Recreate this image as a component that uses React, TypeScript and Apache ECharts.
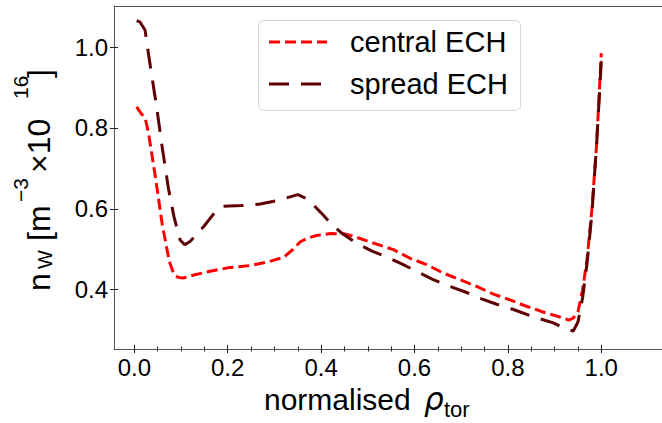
import React, { useEffect, useRef } from "react";
import * as echarts from "echarts";

// ---- data ----
const xTickValues = [0.0, 0.2, 0.4, 0.6, 0.8, 1.0];
const xMinorTickValues = [0.05, 0.1, 0.15, 0.25, 0.3, 0.35, 0.45, 0.5, 0.55, 0.65, 0.7, 0.75, 0.85, 0.9, 0.95];
const yTickValues = [0.4, 0.6, 0.8, 1.0];

const seriesNames = ["central ECH", "spread ECH"];

const centralX = [0.005, 0.015, 0.023, 0.03, 0.045, 0.06, 0.075, 0.085, 0.095, 0.105, 0.13, 0.16, 0.2, 0.25, 0.29, 0.32, 0.34, 0.355, 0.37, 0.39, 0.42, 0.45, 0.47, 0.51, 0.555, 0.59, 0.626, 0.662, 0.697, 0.733, 0.769, 0.804, 0.84, 0.88, 0.91, 0.93, 0.94, 0.95, 0.96, 0.97, 0.98, 0.99, 1.0];
const centralY = [0.852, 0.835, 0.825, 0.79, 0.68, 0.56, 0.47, 0.437, 0.43, 0.429, 0.437, 0.445, 0.454, 0.46, 0.47, 0.48, 0.5, 0.518, 0.527, 0.534, 0.539, 0.538, 0.532, 0.516, 0.499, 0.478, 0.462, 0.441, 0.425, 0.408, 0.389, 0.375, 0.359, 0.343, 0.333, 0.325, 0.33, 0.345, 0.4, 0.48, 0.6, 0.76, 0.985];

const spreadX = [0.005, 0.012, 0.023, 0.03, 0.048, 0.06, 0.073, 0.085, 0.098, 0.108, 0.12, 0.15, 0.175, 0.19, 0.23, 0.27, 0.305, 0.35, 0.37, 0.385, 0.4, 0.42, 0.444, 0.473, 0.508, 0.54, 0.576, 0.605, 0.64, 0.676, 0.712, 0.74, 0.776, 0.812, 0.847, 0.897, 0.925, 0.94, 0.95, 0.96, 0.97, 0.98, 0.99, 1.0];
const spreadY = [1.065, 1.062, 1.042, 0.985, 0.85, 0.75, 0.651, 0.58, 0.523, 0.511, 0.52, 0.558, 0.595, 0.606, 0.608, 0.612, 0.62, 0.635, 0.625, 0.608, 0.59, 0.565, 0.54, 0.517, 0.496, 0.481, 0.462, 0.445, 0.425, 0.408, 0.393, 0.379, 0.364, 0.351, 0.336, 0.318, 0.302, 0.298, 0.32, 0.38, 0.47, 0.59, 0.76, 0.965];

const X_MIN = -0.0435;
const X_MAX = 1.13;
const Y_MIN = 0.2534;
const Y_MAX = 1.1014;

const FONT = "'Liberation Sans', Arial, sans-serif";
const RED = "#ff0000";
const DARK = "#5f0000";
const AXIS_COLOR = "#555555";

export default function App() {
  const ref = useRef<HTMLDivElement>(null);

  useEffect(() => {
    if (!ref.current) return;
    const chart = echarts.init(ref.current, undefined, { renderer: "svg" });

    const centralData = centralX.map((x, i) => [x, centralY[i]]);
    const spreadData = spreadX.map((x, i) => [x, spreadY[i]]);

    const baseX = { type: "value", min: X_MIN, max: X_MAX, splitLine: { show: false } };
    const baseY = { type: "value", min: Y_MIN, max: Y_MAX, splitLine: { show: false } };

    const rot = Math.PI / 2;
    const mainSize = 32;
    const supSize = 21;
    const mainX = 50 - 0.3465 * mainSize;
    const subX = 52 - 0.3465 * 20;
    const supX = 28 - 0.3465 * supSize;

    const ylabelPieces = [
      { t: "n", y: 291, x: mainX, s: mainSize },
      { t: "W", y: 269, x: subX, s: 20 },
      { t: "[m", y: 241, x: mainX, s: mainSize },
      { t: "\u22123", y: 202, x: supX, s: supSize },
      { t: "\u00d710", y: 173, x: mainX, s: mainSize },
      { t: "16", y: 99, x: supX, s: supSize },
      { t: "]", y: 78, x: mainX, s: mainSize },
    ];

    const option: any = {
      animation: false,
      backgroundColor: "#ffffff",
      grid: { left: 114, top: 6, right: 0, bottom: 74, containLabel: false },
      xAxis: [
        {
          ...baseX,
          position: "bottom",
          axisLine: { show: true, onZero: false, lineStyle: { color: AXIS_COLOR, width: 1 } },
          axisTick: { show: false },
          axisLabel: {
            customValues: xTickValues,
            formatter: (v: number) => v.toFixed(1),
            fontSize: 24,
            color: "#000",
            fontFamily: FONT,
            margin: 6,
          },
        },
        {
          ...baseX,
          position: "bottom",
          offset: -4,
          axisLine: { show: false, onZero: false },
          axisTick: { show: true, customValues: xTickValues, length: 8, lineStyle: { color: "#222", width: 1 } },
          axisLabel: { show: false },
        },
        {
          ...baseX,
          position: "bottom",
          offset: -2.5,
          axisLine: { show: false, onZero: false },
          axisTick: { show: true, customValues: xMinorTickValues, length: 5, lineStyle: { color: "#222", width: 1 } },
          axisLabel: { show: false },
        },
        {
          ...baseX,
          position: "top",
          axisLine: { show: true, onZero: false, lineStyle: { color: AXIS_COLOR, width: 1 } },
          axisTick: { show: false },
          axisLabel: { show: false },
        },
      ],
      yAxis: [
        {
          ...baseY,
          position: "left",
          axisLine: { show: true, onZero: false, lineStyle: { color: AXIS_COLOR, width: 1 } },
          axisTick: { show: false },
          axisLabel: {
            customValues: yTickValues,
            formatter: (v: number) => v.toFixed(1),
            fontSize: 24,
            color: "#000",
            fontFamily: FONT,
            margin: 6,
          },
        },
        {
          ...baseY,
          position: "left",
          offset: -4,
          axisLine: { show: false, onZero: false },
          axisTick: { show: true, customValues: yTickValues, length: 8, lineStyle: { color: "#222", width: 1 } },
          axisLabel: { show: false },
        },
      ],
      series: [
        {
          name: seriesNames[0],
          type: "line",
          xAxisIndex: 0,
          yAxisIndex: 0,
          data: centralData,
          showSymbol: false,
          symbol: "none",
          lineStyle: { color: RED, width: 3, type: [11, 5] },
          z: 2,
        },
        {
          name: seriesNames[1],
          type: "line",
          xAxisIndex: 0,
          yAxisIndex: 0,
          data: spreadData,
          showSymbol: false,
          symbol: "none",
          lineStyle: { color: DARK, width: 3, type: [20, 12] },
          z: 3,
        },
      ],
      graphic: [
        // legend
        {
          type: "rect",
          shape: { x: 258.5, y: 20.5, width: 262, height: 90, r: 5 },
          style: { fill: "rgba(255,255,255,0.85)", stroke: "#d6d6d6", lineWidth: 1 },
          z: 10,
          silent: true,
        },
        {
          type: "line",
          shape: { x1: 269, y1: 42, x2: 327, y2: 42 },
          style: { stroke: RED, lineWidth: 3, lineDash: [11, 5] },
          z: 11,
          silent: true,
        },
        {
          type: "line",
          shape: { x1: 269, y1: 84, x2: 327, y2: 84 },
          style: { stroke: DARK, lineWidth: 3, lineDash: [20, 12] },
          z: 11,
          silent: true,
        },
        {
          type: "text",
          x: 350,
          y: 42,
          style: { text: seriesNames[0], fontSize: 29, fontFamily: FONT, fill: "#000", align: "left", verticalAlign: "middle" },
          z: 11,
          silent: true,
        },
        {
          type: "text",
          x: 350,
          y: 84,
          style: { text: seriesNames[1], fontSize: 29, fontFamily: FONT, fill: "#000", align: "left", verticalAlign: "middle" },
          z: 11,
          silent: true,
        },
        // x axis label
        {
          type: "text",
          x: 264,
          y: 410 - 0.3465 * 30,
          style: { text: "normalised", fontSize: 30, fontFamily: FONT, fill: "#000", align: "left", verticalAlign: "middle" },
          silent: true,
        },
        {
          type: "text",
          x: 424,
          y: 410 - 0.3465 * 31,
          style: { text: "\u03c1", fontSize: 31, fontStyle: "italic", fontFamily: "'DejaVu Sans', sans-serif", fill: "#000", align: "left", verticalAlign: "middle" },
          silent: true,
        },
        {
          type: "text",
          x: 444,
          y: 417 - 0.3465 * 22,
          style: { text: "tor", fontSize: 22, fontFamily: FONT, fill: "#000", align: "left", verticalAlign: "middle" },
          silent: true,
        },
        // y axis label pieces (rotated)
        ...ylabelPieces.map((p) => ({
          type: "text",
          x: p.x,
          y: p.y,
          rotation: rot,
          style: { text: p.t, fontSize: p.s, fontFamily: FONT, fill: "#000", align: "left", verticalAlign: "middle" },
          silent: true,
        })),
      ],
    };

    chart.setOption(option);
    return () => chart.dispose();
  }, []);

  return (
    <div
      ref={ref}
      style={{ position: "fixed", left: 0, top: 0, width: 662, height: 423, background: "#fff" }}
    />
  );
}
